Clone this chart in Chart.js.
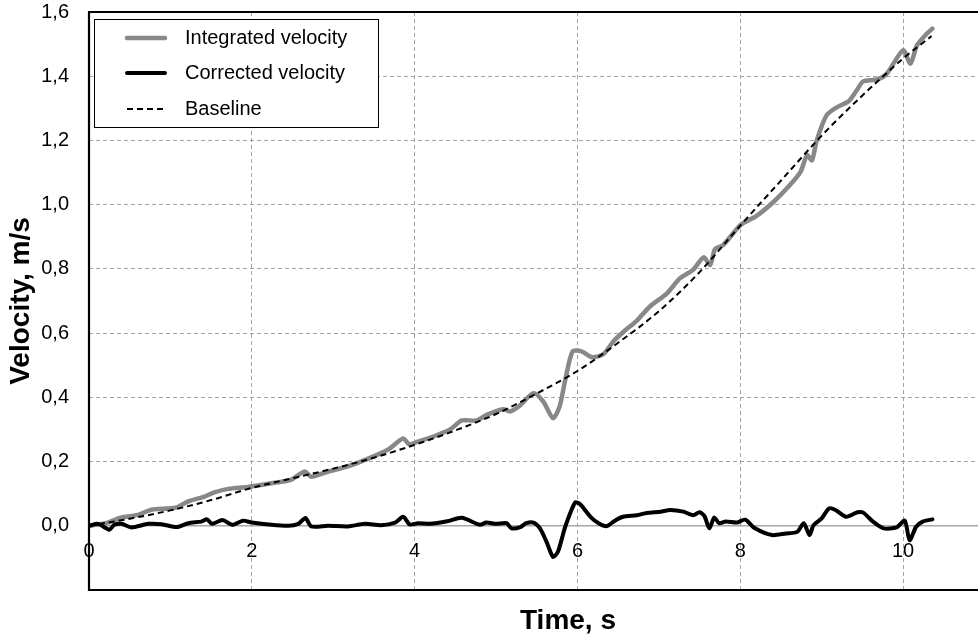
<!DOCTYPE html>
<html><head><meta charset="utf-8">
<script src="https://cdn.jsdelivr.net/npm/chart.js@4.4.1/dist/chart.umd.min.js"></script>
<style>html,body{margin:0;padding:0;background:#fff;overflow:hidden}#wrap{width:978px;height:639px;position:relative}</style>
</head><body><div id="wrap"><canvas id="c" width="978" height="639"></canvas></div>
<script>
const seriesLabels = ['Integrated velocity', 'Corrected velocity', 'Baseline'];
const xAxisTitle = 'Time, s';
const yAxisTitle = 'Velocity, m/s';
const xTickValues = [0, 2, 4, 6, 8, 10];
const yTickValues = [0, 0.2, 0.4, 0.6, 0.8, 1.0, 1.2, 1.4, 1.6];

const integratedTime = [0,0.23,0.39,0.6,0.77,1.06,1.22,1.42,1.54,1.71,1.95,2.28,2.48,2.65,2.73,2.94,3.18,3.39,3.67,3.86,3.93,4.04,4.23,4.44,4.58,4.76,4.89,5.09,5.17,5.29,5.46,5.58,5.70,5.78,5.85,5.94,6.05,6.18,6.32,6.44,6.57,6.73,6.89,7.10,7.26,7.42,7.55,7.63,7.69,7.79,8.0,8.2,8.41,8.61,8.74,8.82,8.88,8.94,9.06,9.19,9.33,9.43,9.51,9.68,9.80,10.0,10.09,10.17,10.29,10.36];
const integratedVelocity = [0,0.01,0.025,0.034,0.05,0.056,0.076,0.091,0.104,0.115,0.121,0.134,0.143,0.169,0.153,0.169,0.185,0.205,0.237,0.272,0.254,0.262,0.278,0.301,0.328,0.328,0.346,0.363,0.356,0.374,0.413,0.387,0.335,0.371,0.454,0.543,0.543,0.525,0.535,0.574,0.605,0.639,0.683,0.724,0.771,0.797,0.836,0.812,0.862,0.874,0.936,0.965,1.009,1.061,1.102,1.154,1.138,1.201,1.278,1.304,1.322,1.356,1.384,1.39,1.408,1.481,1.439,1.496,1.532,1.548];

const correctedTime = [0,0.11,0.25,0.31,0.40,0.52,0.73,0.89,1.08,1.22,1.38,1.45,1.51,1.64,1.76,1.89,2.0,2.24,2.45,2.57,2.66,2.73,2.94,3.18,3.39,3.59,3.76,3.86,3.94,4.04,4.19,4.40,4.58,4.80,4.88,5.0,5.13,5.19,5.30,5.37,5.46,5.54,5.62,5.70,5.76,5.85,5.97,6.03,6.16,6.26,6.36,6.46,6.56,6.73,6.85,7.02,7.14,7.30,7.42,7.50,7.56,7.62,7.68,7.74,7.82,7.96,8.06,8.18,8.39,8.56,8.70,8.78,8.85,8.90,9.0,9.09,9.17,9.30,9.44,9.51,9.63,9.76,9.92,10.02,10.08,10.16,10.24,10.36];
const correctedVelocity = [0,0.006,-0.012,0.003,0.006,-0.005,0.006,0.005,-0.004,0.008,0.013,0.02,0.006,0.018,0.003,0.016,0.01,0.003,0,0.006,0.024,-0.002,0,-0.002,0.006,0.002,0.01,0.028,0.004,0.008,0.006,0.014,0.025,0.003,0.01,0.006,0.008,-0.008,-0.004,0.008,0.01,-0.008,-0.05,-0.097,-0.081,-0.003,0.072,0.068,0.028,0.008,-0.001,0.016,0.028,0.033,0.04,0.044,0.049,0.044,0.033,0.042,0.03,-0.008,0.026,0.008,0.013,0.01,0.019,-0.008,-0.029,-0.024,-0.019,0.008,-0.029,0.002,0.023,0.054,0.049,0.028,0.042,0.041,0.013,-0.008,-0.005,0.016,-0.045,-0.003,0.013,0.02];

const baselineTime = [0,0.5,1.0,1.5,2.0,2.5,3.0,3.5,4.0,4.5,5.0,5.5,6.0,6.5,7.0,7.5,8.0,8.5,9.0,9.5,10.0,10.35];
const baselineVelocity = [0,0.022,0.048,0.08,0.118,0.148,0.178,0.212,0.252,0.297,0.348,0.412,0.482,0.57,0.668,0.79,0.935,1.075,1.215,1.34,1.455,1.525];

const FONT = '"Liberation Sans", Arial, sans-serif';
function toPoints(t, v) { return t.map((x, i) => ({ x: x, y: v[i] })); }
function fmt(v) { return v.toFixed(1).replace('.', ','); }

const framePlugin = {
  id: 'frame',
  afterDatasetsDraw(chart) {
    const { ctx, chartArea: a } = chart;
    ctx.save();
    ctx.strokeStyle = '#000';
    ctx.lineWidth = 2.2;
    ctx.beginPath();
    ctx.moveTo(a.right + 2, a.top);
    ctx.lineTo(a.left, a.top);
    ctx.lineTo(a.left, a.bottom);
    ctx.lineTo(a.right + 2, a.bottom);
    ctx.stroke();
    ctx.restore();
  }
};

const legendPlugin = {
  id: 'boxLegend',
  afterDraw(chart) {
    const ctx = chart.ctx;
    ctx.save();
    ctx.fillStyle = '#fff';
    ctx.fillRect(94.5, 19.5, 284, 108);
    ctx.strokeStyle = '#000';
    ctx.lineWidth = 1;
    ctx.strokeRect(94.5, 19.5, 284, 108);
    const rows = [38, 73, 109];
    chart.data.datasets.forEach((ds, i) => {
      const y = rows[i];
      ctx.save();
      ctx.strokeStyle = ds.borderColor;
      ctx.lineWidth = ds.borderWidth;
      ctx.setLineDash(ds.borderDash || []);
      ctx.lineCap = ds.borderDash ? 'butt' : 'round';
      ctx.beginPath();
      ctx.moveTo(127, y);
      ctx.lineTo(165, y);
      ctx.stroke();
      ctx.restore();
      ctx.fillStyle = '#000';
      ctx.font = '20px ' + FONT;
      ctx.textAlign = 'left';
      ctx.textBaseline = 'middle';
      ctx.fillText(ds.label, 185, y);
    });
    ctx.font = 'bold 28px ' + FONT;
    ctx.textAlign = 'center';
    ctx.textBaseline = 'middle';
    ctx.fillStyle = '#000';
    ctx.fillText(xAxisTitle, 568, 621);
    ctx.restore();
  }
};

new Chart(document.getElementById('c'), {
  type: 'scatter',
  data: {
    datasets: [
      { label: seriesLabels[0], data: toPoints(integratedTime, integratedVelocity), showLine: true,
        borderColor: '#888888', backgroundColor: '#888888', borderWidth: 4.5, pointRadius: 0,
        tension: 0.25, borderJoinStyle: 'round', borderCapStyle: 'round', order: 2 },
      { label: seriesLabels[1], data: toPoints(correctedTime, correctedVelocity), showLine: true,
        borderColor: '#000000', backgroundColor: '#000000', borderWidth: 4, pointRadius: 0,
        tension: 0.25, borderJoinStyle: 'round', borderCapStyle: 'round', order: 1 },
      { label: seriesLabels[2], data: toPoints(baselineTime, baselineVelocity), showLine: true,
        borderColor: '#000000', backgroundColor: '#000000', borderWidth: 2, borderDash: [6, 4], pointRadius: 0,
        cubicInterpolationMode: 'monotone', order: 0 }
    ]
  },
  options: {
    responsive: false,
    animation: false,
    events: [],
    layout: { padding: { top: 12, left: 0, right: 0, bottom: 49 } },
    plugins: { legend: { display: false }, tooltip: { enabled: false }, title: { display: false } },
    scales: {
      x: {
        type: 'linear', min: 0, max: 10.92, position: { y: 0 },
        afterBuildTicks: s => { s.ticks = xTickValues.map(v => ({ value: v })); },
        ticks: { padding: 14, color: '#000', font: { family: FONT, size: 20 }, maxRotation: 0, callback: v => String(v) },
        grid: { drawTicks: false, color: '#a3a3a3', lineWidth: 1 },
        border: { display: true, color: '#a8a8a8', width: 1.6, dash: [4, 3] }
      },
      y: {
        type: 'linear', min: -0.2, max: 1.6, position: 'left',
        afterBuildTicks: s => { s.ticks = yTickValues.map(v => ({ value: v })); },
        afterFit: s => { s.width = 89; },
        ticks: { padding: 0, color: '#000', font: { family: FONT, size: 20 }, callback: v => fmt(v) },
        grid: { drawTicks: true, tickLength: 20, tickColor: 'rgba(0,0,0,0)', lineWidth: 1,
          color: c => (c.tick && c.tick.value > 0.01 && c.tick.value < 1.59) ? '#a3a3a3' : 'rgba(0,0,0,0)' },
        border: { display: false, dash: [4, 3] },
        title: { display: true, text: yAxisTitle, color: '#000', font: { family: FONT, size: 28, weight: 'bold' }, padding: { top: 4, bottom: 0 } }
      }
    }
  },
  plugins: [framePlugin, legendPlugin]
});
</script>
</body></html>
